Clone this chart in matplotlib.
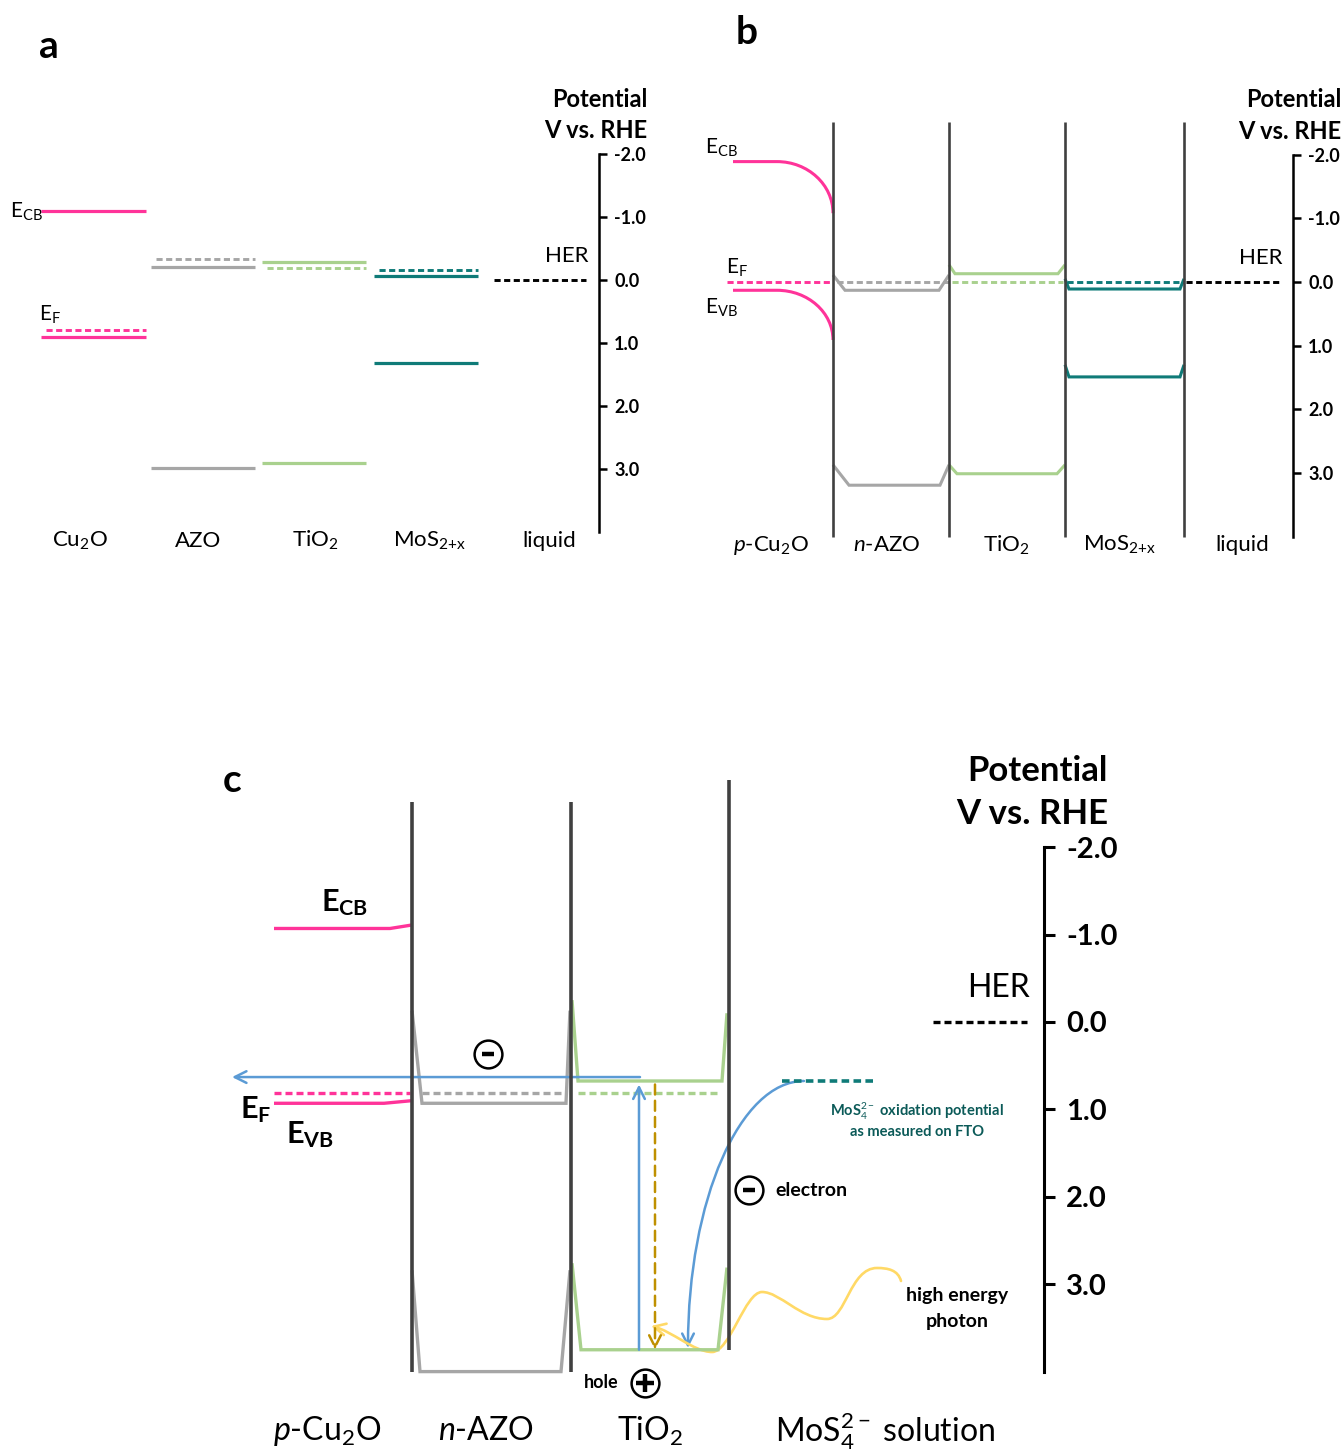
import matplotlib.pyplot as plt
from matplotlib.path import Path
from matplotlib.patches import PathPatch, FancyArrowPatch

plt.rcParams['font.family'] = ['Lato', 'DejaVu Sans']
plt.rcParams['mathtext.fontset'] = 'custom'
plt.rcParams['mathtext.rm'] = 'Lato'
plt.rcParams['mathtext.it'] = 'Lato:italic'
plt.rcParams['mathtext.bf'] = 'Lato:bold'

W, H = 1344, 1454

PINK = '#ff3399'
GRAY = '#a6a6a6'
GREEN = '#a9d18e'
TEAL = '#0f7b78'
WALL = '#404040'
BLUE = '#5b9bd5'
GOLD = '#bf9000'
YELLOW = '#ffd966'

# potentials in V vs RHE
ticks = [-2.0, -1.0, 0.0, 1.0, 2.0, 3.0]
her = 0.0

# panel a - separate materials before contact
a_labels = ['Cu$_2$O', 'AZO', 'TiO$_2$', r'MoS$_{2{+}\mathrm{x}}$', 'liquid']
a_cb = [-1.10, -0.20, -0.29, -0.07]
a_ef = [0.80, -0.34, -0.19, -0.16]
a_vb = [0.90, 2.99, 2.90, 1.31]

# panel b - in contact, bulk value and value at the interface
b_labels = [r'$\mathit{p}$-Cu$_2$O', r'$\mathit{n}$-AZO', 'TiO$_2$', r'MoS$_{2{+}\mathrm{x}}$', 'liquid']
b_cb_bulk = [-1.89, 0.13, -0.13, 0.11]
b_cb_edge = [-1.08, -0.11, -0.27, -0.05]
b_vb_bulk = [0.13, 3.19, 3.01, 1.49]
b_vb_edge = [0.91, 2.87, 2.87, 1.30]
b_ef = [0.0, 0.0, 0.0, 0.0]

# panel c - under illumination in MoS4 2- solution
c_labels = [r'$\mathit{p}$-Cu$_2$O', r'$\mathit{n}$-AZO', 'TiO$_2$', 'MoS$_4^{2-}$ solution']
c_cb_left = [-1.07, -0.13, -0.25]
c_cb_bulk = [-1.07, 0.93, 0.675]
c_cb_right = [-1.11, -0.13, -0.10]
c_vb_left = [0.93, 2.84, 2.76]
c_vb_bulk = [0.93, 4.00, 3.75]
c_vb_right = [0.90, 2.84, 2.81]
c_ef = [0.81, 0.81, 0.81]
mos4_ox = 0.675
e_transfer = 0.63

fig = plt.figure(figsize=(W / 100, H / 100), dpi=100)


def panel_axes(y0, ppv):
    # full figure axes, x in pixels, y in volts
    ax = fig.add_axes([0, 0, 1, 1])
    ax.set_xlim(0, W)
    ax.set_ylim((H - y0) / ppv, -y0 / ppv)
    ax.patch.set_alpha(0)
    for s in ['left', 'top', 'bottom']:
        ax.spines[s].set_visible(False)
    ax.xaxis.set_visible(False)
    return ax


def potential_scale(ax, x, fs, lw, tlen, pad, title_x, title_y, title_fs):
    sp = ax.spines['right']
    sp.set_position(('data', x))
    sp.set_bounds(-2, 4)
    sp.set_linewidth(lw)
    ax.yaxis.tick_right()
    ax.set_yticks(ticks)
    ax.set_yticklabels([f'{t:.1f}' for t in ticks], fontsize=fs, fontweight='bold')
    ax.tick_params(axis='y', direction='out', length=tlen, width=lw, pad=pad)
    ax.text(title_x, title_y[0], 'Potential', ha='right', va='center', fontsize=title_fs, fontweight='bold')
    ax.text(title_x, title_y[1], 'V vs. RHE', ha='right', va='center', fontsize=title_fs, fontweight='bold')


def well(ax, x0, x1, left, bulk, right, wl, wr, color, lw):
    ax.plot([x0, x0 + wl, x1 - wr, x1], [left, bulk, bulk, right], color=color, lw=lw,
            solid_joinstyle='miter', solid_capstyle='butt')


DASH = (0, (2.1, 1.2))
K = 0.5523  # bezier constant for a quarter ellipse

# ---------------- panel a ----------------
ax = panel_axes(280, 63)
a_slots = [(41, 146), (151, 255), (262, 366), (374, 478)]
a_colors = [PINK, GRAY, GREEN, TEAL]
for (x0, x1), cb, ef, vb, col in zip(a_slots, a_cb, a_ef, a_vb, a_colors):
    ax.hlines([cb, vb], x0, x1, color=col, lw=2.3)
    ax.hlines(ef, x0 + 5, x1, color=col, lw=2.1, linestyles=DASH)
ax.hlines(her, 494, 586, color='black', lw=2.1, linestyles=DASH)
potential_scale(ax, 599, 13, 1.8, 6, 5, 647, (-2.86, -2.37), 17)
ax.text(10, -1.08, 'E$_{\\mathrm{CB}}$', ha='left', va='center', fontsize=15)
ax.text(39, 0.56, 'E$_{\\mathrm{F}}$', ha='left', va='center', fontsize=15)
ax.text(567, -0.38, 'HER', ha='center', va='center', fontsize=16)
for xc, lab in zip([80, 198, 315, 430, 549], a_labels):
    ax.text(xc, 4.14, lab, ha='center', va='center', fontsize=16)
ax.text(49, -3.71, 'a', ha='center', va='center', fontsize=28, fontweight='bold')

# ---------------- panel b ----------------
bx = panel_axes(282, 63.7)
walls_b = [833, 949, 1065, 1184]
b_colors = [PINK, GRAY, GREEN, TEAL]
bx.vlines(walls_b, 4.0, -2.51, color=WALL, lw=1.9, zorder=4)

# p-Cu2O band bending towards the junction
x_flat, x_start = 777, 733
r = walls_b[0] - x_flat
for bulk, edge in [(b_cb_bulk[0], b_cb_edge[0]), (b_vb_bulk[0], b_vb_edge[0])]:
    verts = [(x_start, bulk), (x_flat, bulk), (x_flat + K * r, bulk),
             (walls_b[0], edge - K * (edge - bulk)), (walls_b[0], edge)]
    codes = [Path.MOVETO, Path.LINETO, Path.CURVE4, Path.CURVE4, Path.CURVE4]
    bx.add_patch(PathPatch(Path(verts, codes), fill=False, edgecolor=PINK, lw=2.2))

b_bend_cb = [(12, 10), (6, 7), (4, 4)]
b_bend_vb = [(16, 9), (8, 8), (4, 4)]
for i in range(1, 4):
    x0, x1 = walls_b[i - 1], walls_b[i]
    well(bx, x0, x1, b_cb_edge[i], b_cb_bulk[i], b_cb_edge[i], *b_bend_cb[i - 1], b_colors[i], 2.2)
    well(bx, x0, x1, b_vb_edge[i], b_vb_bulk[i], b_vb_edge[i], *b_bend_vb[i - 1], b_colors[i], 2.2)
ef_x = [(727, 833), (837, 949), (952, 1063), (1067, 1184)]
for (x0, x1), ef, col in zip(ef_x, b_ef, b_colors):
    bx.hlines(ef, x0, x1, color=col, lw=2.1, linestyles=DASH)
bx.hlines(her, 1186, 1280, color='black', lw=2.1, linestyles=DASH)
potential_scale(bx, 1293, 13, 1.8, 6, 5, 1341, (-2.86, -2.37), 17)
bx.text(705, -2.10, 'E$_{\\mathrm{CB}}$', ha='left', va='center', fontsize=15)
bx.text(726, -0.22, 'E$_{\\mathrm{F}}$', ha='left', va='center', fontsize=15)
bx.text(705, 0.41, 'E$_{\\mathrm{VB}}$', ha='left', va='center', fontsize=15)
bx.text(1261, -0.38, 'HER', ha='center', va='center', fontsize=16)
for xc, lab in zip([771, 887, 1006, 1120, 1242], b_labels):
    bx.text(xc, 4.13, lab, ha='center', va='center', fontsize=16)
bx.text(747, -3.91, 'b', ha='center', va='center', fontsize=28, fontweight='bold')

# ---------------- panel c ----------------
C_Y0, C_PPV = 1022, 87.4


def cv(py):
    return (py - C_Y0) / C_PPV


cx = panel_axes(C_Y0, C_PPV)
walls_c = [412, 571, 729]
cx.vlines(walls_c, [4.0, 4.0, 3.75], [-2.52, -2.52, -2.77], color=WALL, lw=2.6, zorder=4)

c_colors = [PINK, GRAY, GREEN]
c_span = [(274, 412), (412, 570), (572, 727)]
c_bend_cb = [(0, 22), (10, 4), (6, 5)]
c_bend_vb = [(0, 28), (8, 9), (9, 9)]
for i, ((x0, x1), col) in enumerate(zip(c_span, c_colors)):
    well(cx, x0, x1, c_cb_left[i], c_cb_bulk[i], c_cb_right[i], *c_bend_cb[i], col, 2.4)
    well(cx, x0, x1, c_vb_left[i], c_vb_bulk[i], c_vb_right[i], *c_bend_vb[i], col, 2.4)
c_ef_x = [(274, 410), (422, 565), (578, 718)]
for (x0, x1), ef, col in zip(c_ef_x, c_ef, c_colors):
    cx.hlines(ef, x0, x1, color=col, lw=2.4, linestyles=DASH)
cx.hlines(mos4_ox, 782, 877, color=TEAL, lw=2.6, linestyles=DASH)
cx.hlines(her, 933, 1027, color='black', lw=2.4, linestyles=DASH)
potential_scale(cx, 1044, 21, 2.2, 8, 8, 1108, (-2.87, -2.38), 25)

head = '->,head_length=0.6,head_width=0.3'
arrow_kw = dict(arrowstyle=head, mutation_scale=14, shrinkA=0, shrinkB=0, lw=1.8)
# excitation, recombination and transfer arrows
cx.annotate('', xy=(639, c_cb_bulk[2] + 0.04), xytext=(639, c_vb_bulk[2]),
            arrowprops=dict(color=BLUE, **arrow_kw))
cx.annotate('', xy=(655, c_vb_bulk[2]), xytext=(655, c_cb_bulk[2] + 0.04),
            arrowprops=dict(color=GOLD, ls=(0, (4, 2.5)), **arrow_kw))
cx.annotate('', xy=(232, e_transfer), xytext=(640, e_transfer),
            arrowprops=dict(color=BLUE, **arrow_kw))

# electron from the MoS4 2- level down to the TiO2 valence band
x_s, x_e = 804, 688
y_s, y_e = mos4_ox, c_vb_bulk[2] - 0.02
curve = Path([(x_s, y_s), (x_s - K * (x_s - x_e), y_s), (x_e, y_e - K * (y_e - y_s)), (x_e, y_e)],
             [Path.MOVETO, Path.CURVE4, Path.CURVE4, Path.CURVE4])
cx.add_patch(FancyArrowPatch(path=curve, color=BLUE, lw=1.8, arrowstyle=head, mutation_scale=14))

# incoming photon
wave = [(901, 1281), (898, 1270), (888, 1268), (877, 1268),
        (850, 1268), (846, 1319), (827, 1319),
        (800, 1319), (780, 1292), (762, 1292),
        (745, 1292), (730, 1352), (712, 1352),
        (694, 1352), (672, 1331), (651, 1326)]
wave = [(x, cv(y)) for x, y in wave]
codes = [Path.MOVETO] + [Path.CURVE4] * 15
cx.add_patch(FancyArrowPatch(path=Path(wave, codes), color=YELLOW, lw=1.9,
                             arrowstyle=head, mutation_scale=14))

# charge symbols
for x, y, mk, ms in [(488, cv(1054), '_', 9), (749, cv(1190), '_', 9), (645, cv(1383), '+', 13)]:
    cx.plot(x, y, 'o', ms=20, mfc='white', mec='black', mew=1.8, zorder=5)
    cx.plot(x, y, mk, ms=ms, mew=3.2, color='black', zorder=6)
cx.text(775, cv(1190), 'electron', ha='left', va='center', fontsize=14, fontweight='bold')
cx.text(601, cv(1382), 'hole', ha='center', va='center', fontsize=13, fontweight='bold')
cx.text(957, cv(1295), 'high energy', ha='center', va='center', fontsize=14, fontweight='bold')
cx.text(957, cv(1321), 'photon', ha='center', va='center', fontsize=14, fontweight='bold')
cx.text(917, cv(1111), 'MoS$_4^{2-}$ oxidation potential', ha='center', va='center',
        fontsize=10.5, fontweight='bold', color='#0b5a58')
cx.text(917, cv(1132), 'as measured on FTO', ha='center', va='center',
        fontsize=10.5, fontweight='bold', color='#0b5a58')

cx.text(345, cv(903), r'E$_{\mathbf{CB}}$', ha='center', va='center', fontsize=22, fontweight='bold')
cx.text(256, cv(1110), r'E$_{\mathbf{F}}$', ha='center', va='center', fontsize=22, fontweight='bold')
cx.text(310, cv(1135), r'E$_{\mathbf{VB}}$', ha='center', va='center', fontsize=22, fontweight='bold')
cx.text(998, cv(988), 'HER', ha='center', va='center', fontsize=23)
for xc, lab in zip([327, 486, 650, 885], c_labels):
    cx.text(xc, cv(1431), lab, ha='center', va='center', fontsize=23)
cx.text(232, cv(780), 'c', ha='center', va='center', fontsize=28, fontweight='bold')

fig.savefig('out.png', dpi=100)
